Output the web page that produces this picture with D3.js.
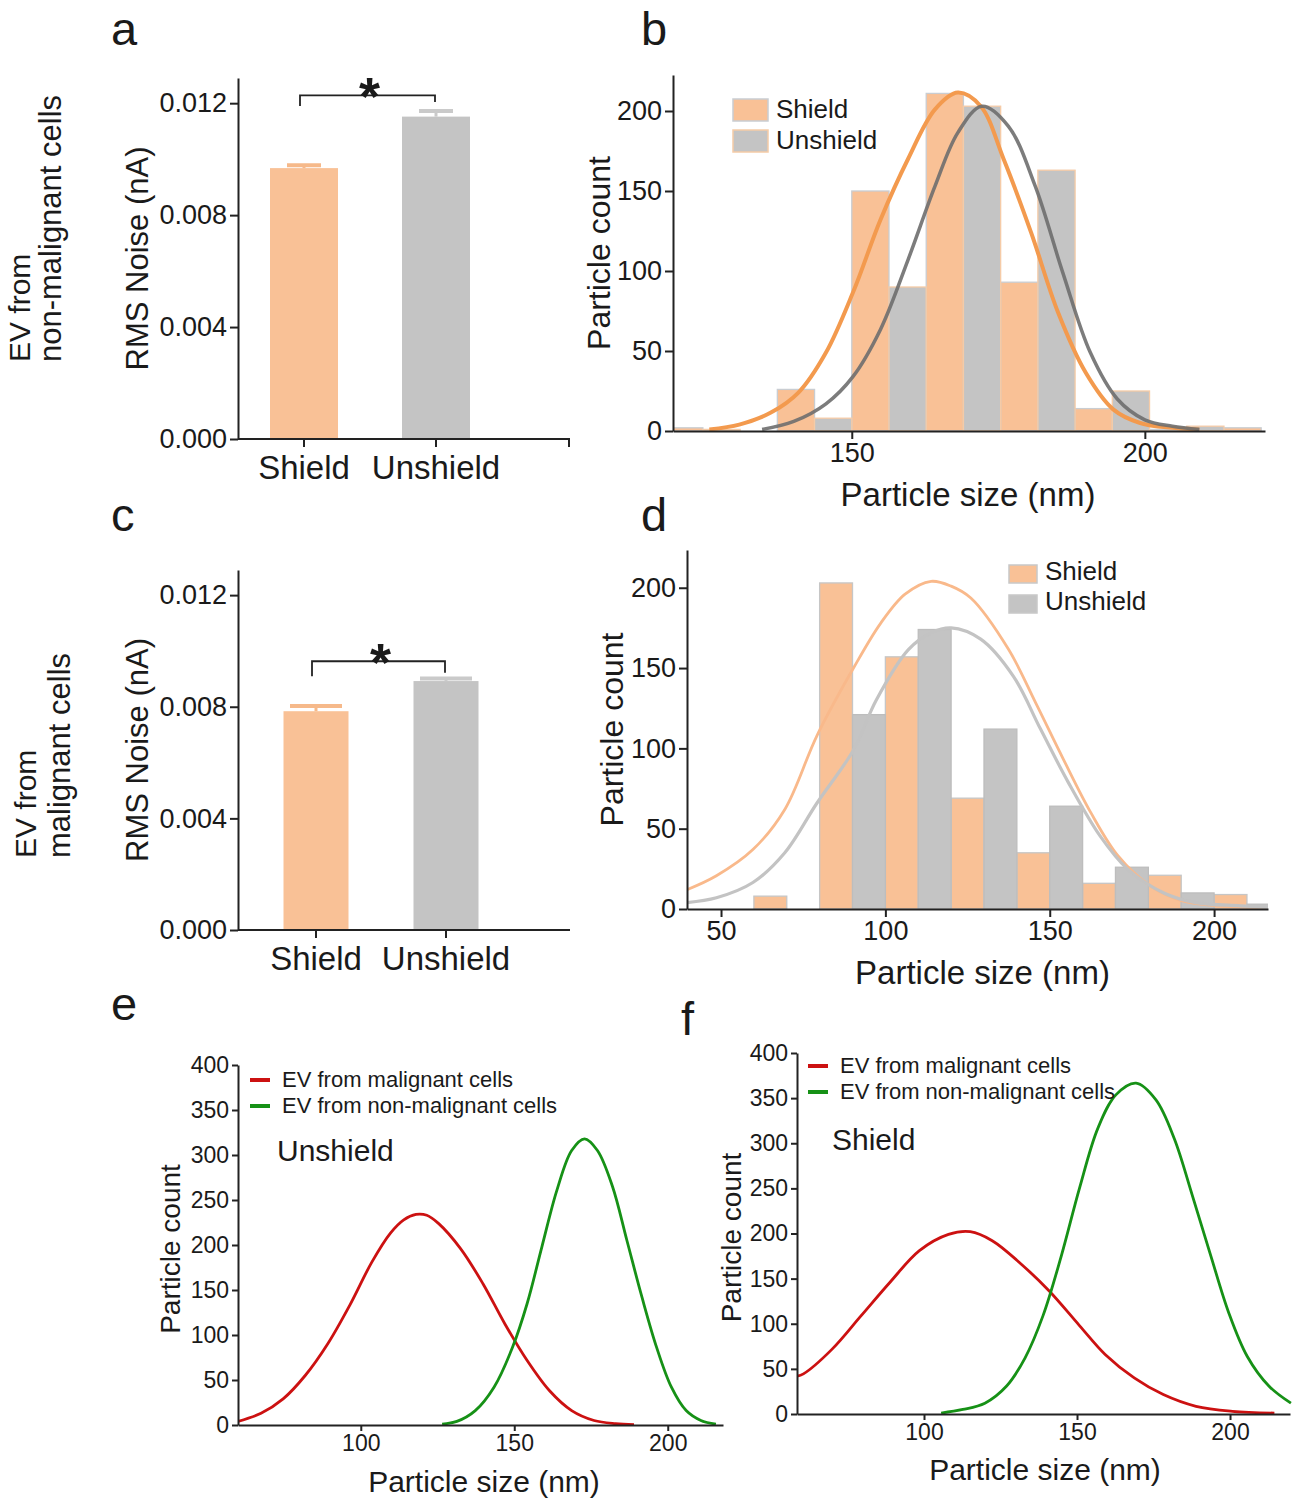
<!DOCTYPE html>
<html><head><meta charset="utf-8">
<script src="https://cdn.jsdelivr.net/npm/d3@7"></script>
<style>body{margin:0;background:#fff}</style>
</head><body>
<svg id="fig" width="1294" height="1500" xmlns="http://www.w3.org/2000/svg"></svg>
<script>
// ---------------- DATA ----------------
const groups = ["Shield", "Unshield"];
const noiseTicks = [0, 0.004, 0.008, 0.012];
// panel a: EV from non-malignant cells
const noiseNonMalignant = [0.00968, 0.01152];
const noiseNonMalignantErr = [0.0001, 0.0002];
// panel c: EV from malignant cells
const noiseMalignant = [0.00784, 0.00892];
const noiseMalignantErr = [0.00019, 0.00009];

// panel b histogram (non-malignant), bin width 6.35 nm
const binWidthB = 6.35;
const histB_shieldStart = [118.25, 137.3, 150, 162.7, 175.4, 188.1, 200.8, 213.5];
const histB_shieldCount = [2, 26, 150, 211, 93, 14, 1, 2];
const histB_unshieldStart = [124.6, 143.65, 156.35, 169.05, 181.75, 194.45, 207.15];
const histB_unshieldCount = [1, 8, 90, 203, 163, 25, 3];
const ticksB_x = [150, 200];
const ticksB_y = [0, 50, 100, 150, 200];

// panel b fitted curves [size nm, count]
const curveB_shield = [[125.7,1],[130.8,4],[136.2,11.5],[140.9,24],[145.6,49],[150.2,86.5],[154.9,132],[159.6,170],[164.2,201],[168.1,211.5],[172,203],[175.9,170],[180.6,124],[185.2,74],[189.9,36.5],[194.6,13.5],[199.2,5],[204.7,2],[209.3,1]];
const curveB_unshield = [[134.7,1],[140.1,6],[145.6,17],[150.2,34],[154.9,63.5],[159.6,107],[164.2,153],[168.1,186.5],[172.2,203],[176.7,190.6],[181.3,153],[186,99],[190.7,49],[195.3,20],[200,7],[204.7,3],[209.3,1]];

// panel d histogram (malignant), bin width 10 nm
const binWidthD = 10;
const histD_shieldStart = [60, 80, 100, 120, 140, 160, 180, 200];
const histD_shieldCount = [8, 203, 157, 69, 35, 16, 21, 9];
const histD_unshieldStart = [90, 110, 130, 150, 170, 190, 210];
const histD_unshieldCount = [121, 174, 112, 64, 26, 10, 3];
const ticksD_x = [50, 100, 150, 200];
const ticksD_y = [0, 50, 100, 150, 200];

const curveD_shield = [[39.65,12],[48.6,20.7],[59.7,37],[69.4,62],[79.2,108],[90.3,150],[98.6,178],[106,196],[113.9,204],[120,201],[126,193.6],[137.5,161.5],[145.8,128],[154.2,93],[162.5,60],[170.8,33],[180.5,14.5],[190.3,5],[201.4,2],[216.4,1]];
const curveD_unshield = [[39.65,4],[48.6,7],[59.7,16.5],[69.4,35],[79.2,66],[90.3,99],[97.2,130],[107,161.5],[114,172],[120,175],[129,168],[138.9,145],[147.2,112],[155.6,79],[165.3,45.5],[173.6,25],[184.7,10],[194.4,4],[208,2],[216.4,1]];

// panel e (Unshield) and f (Shield)
const seriesNames = ["EV from malignant cells", "EV from non-malignant cells"];
const ticksEF_x = [100, 150, 200];
const ticksEF_y = [0, 50, 100, 150, 200, 250, 300, 350, 400];
const curveE_malignant = [[60,4],[67.5,13],[74.7,29],[81.9,55],[89.2,90],[96.4,133],[103.6,181],[109.6,213],[114,228],[118,234],[121.5,233],[125.3,224],[132.5,196],[139.8,157],[147,112],[154.2,71.6],[161.5,38],[168.7,16],[176,5],[183,1.5],[189,0.5]];
const curveE_nonMalignant = [[126.5,1],[131.3,4],[137.3,16],[143.4,42],[149.4,86],[154.2,135],[159,198],[163.9,261],[168.7,305],[172.9,318],[177.1,305],[182,265],[186.7,205],[191.6,142],[196.4,86],[201.2,42],[206,16],[210.8,5],[215.7,1]];
const curveF_malignant = [[58.5,42],[60.6,44.5],[69.9,71.6],[79.4,108.7],[88.9,146],[98.5,181],[108,199],[115.1,202],[122.3,192],[131.8,166],[141,136],[150.8,98],[159.2,66],[168.7,40],[178.2,21.5],[188.9,8.5],[200.8,3],[214.5,1]];
const curveF_nonMalignant = [[105.6,1],[112.7,5],[119.9,12],[127,31],[133,62],[138.9,109],[144.9,175.5],[150.8,250],[156.8,316.5],[162.7,353.6],[169.3,366.6],[175.8,348],[181.8,305],[187.7,242],[193.7,175.5],[199.6,112],[205.6,64],[212.7,31],[219.9,12]];

// ---------------- STYLE ----------------
const FONT = '"Liberation Sans", Arial, Helvetica, sans-serif';
const INK = '#1a1a1a';
const AX = '#222';
const ORANGE = '#F9C196';
const GRAY = '#C4C4C4';

const svg = d3.select('#fig');

function addText(x, y, s, size, opts = {}) {
  return svg.append('text')
    .attr('transform', `translate(${x},${y})` + (opts.rotate ? ` rotate(${opts.rotate})` : ''))
    .attr('font-family', FONT).attr('font-size', size)
    .attr('fill', opts.fill || INK)
    .attr('text-anchor', opts.anchor || 'start')
    .attr('font-weight', opts.weight || 'normal')
    .text(s);
}
function styleAxis(g, size) {
  g.attr('font-family', FONT).attr('font-size', size);
  g.selectAll('text').attr('fill', INK);
  g.selectAll('path.domain').attr('stroke', AX).attr('stroke-width', 2);
  g.selectAll('.tick line').attr('stroke', AX).attr('stroke-width', 2);
}

// ---------------- BAR PANELS (a, c) ----------------
function barPanel(cfg) {
  const x = d3.scalePoint().domain(groups).range(cfg.centers);
  const y = d3.scaleLinear().domain([0, 0.0129]).range([cfg.yBottom, cfg.yTop]);
  const g = svg.append('g');
  const fills = [ORANGE, GRAY];
  const capCols = ['#F6B98A', '#CACACA'];
  const rows = groups.map((k, i) => ({k, v: cfg.values[i], e: cfg.errors[i], fill: fills[i], cap: capCols[i]}));
  g.selectAll('rect.bar').data(rows).join('rect')
    .attr('x', d => x(d.k) - cfg.barW / 2).attr('width', cfg.barW)
    .attr('y', d => y(d.v)).attr('height', d => y(0) - y(d.v))
    .attr('fill', d => d.fill);
  g.selectAll('line.err').data(rows).join('line')
    .attr('x1', d => x(d.k)).attr('x2', d => x(d.k))
    .attr('y1', d => y(d.v)).attr('y2', d => y(d.v + d.e))
    .attr('stroke', d => d.cap).attr('stroke-width', 3);
  g.selectAll('line.cap').data(rows).join('line')
    .attr('x1', d => x(d.k) - cfg.barW * cfg.capFrac / 2).attr('x2', d => x(d.k) + cfg.barW * cfg.capFrac / 2)
    .attr('y1', d => y(d.v + d.e)).attr('y2', d => y(d.v + d.e))
    .attr('stroke', d => d.cap).attr('stroke-width', 4);
  // axes
  const ya = svg.append('g').attr('transform', `translate(${cfg.xLeft},0)`)
    .call(d3.axisLeft(y).tickValues(noiseTicks).tickFormat(d3.format('.3f')).tickSize(8).tickPadding(3).tickSizeOuter(0));
  styleAxis(ya, 27);
  svg.append('line').attr('x1', cfg.xLeft).attr('x2', cfg.xRight).attr('y1', y(0)).attr('y2', y(0))
    .attr('stroke', AX).attr('stroke-width', 2);
  const tickXs = groups.map(k => x(k)).concat(cfg.endTick ? [cfg.xRight - 1] : []);
  svg.selectAll(null).data(tickXs).join('line')
    .attr('x1', d => d).attr('x2', d => d).attr('y1', y(0)).attr('y2', y(0) + 8)
    .attr('stroke', AX).attr('stroke-width', 2);
  groups.forEach(k => addText(x(k), cfg.catBaseline, k, 33, {anchor: 'middle'}));
  // significance bracket
  const b = cfg.bracket;
  const xl = x(groups[0]) - 4, xr = x(groups[1]) - 1;
  svg.append('path')
    .attr('d', `M${xl},${y(b.left)} V${y(b.line)} H${xr} V${y(b.right)}`)
    .attr('fill', 'none').attr('stroke', AX).attr('stroke-width', 1.8);
  addText((xl + xr) / 2 + 2, y(b.line) + 20, '*', 54, {anchor: 'middle', weight: 'bold'});
  // y title
  addText(cfg.titleX, (cfg.yTop + cfg.yBottom) / 2, 'RMS Noise (nA)', 31, {anchor: 'middle', rotate: -90});
}

barPanel({xLeft: 238, xRight: 570, yBottom: 439, yTop: 78, centers: [304, 436], barW: 68, capFrac: 0.5,
  values: noiseNonMalignant, errors: noiseNonMalignantErr, endTick: true, catBaseline: 479, titleX: 148,
  bracket: {line: 0.01228, left: 0.0119, right: 0.01204}});
barPanel({xLeft: 238, xRight: 570, yBottom: 930, yTop: 570, centers: [316, 446], barW: 65, capFrac: 0.8,
  values: noiseMalignant, errors: noiseMalignantErr, endTick: false, catBaseline: 970, titleX: 148,
  bracket: {line: 0.00963, left: 0.00909, right: 0.00922}});

// row labels
addText(30, 362, 'EV from', 30, {rotate: -90});
addText(61, 362, 'non-malignant  cells', 31, {rotate: -90});
addText(36, 858, 'EV from', 30, {rotate: -90});
addText(70, 858, 'malignant  cells', 31, {rotate: -90});

// ---------------- HISTOGRAM PANELS (b, d) ----------------
function histPanel(cfg) {
  const x = d3.scaleLinear().domain(cfg.xDomain).range([cfg.xL, cfg.xR]);
  const y = d3.scaleLinear().domain([0, cfg.yMax]).range([cfg.yB, cfg.yT]);
  const id = 'clip' + cfg.name;
  svg.append('clipPath').attr('id', id).append('rect')
    .attr('x', cfg.xL).attr('y', cfg.yT - 20).attr('width', cfg.xR - cfg.xL).attr('height', cfg.yB - cfg.yT + 20);
  const g = svg.append('g').attr('clip-path', `url(#${id})`);
  const series = [
    {start: cfg.sStart, count: cfg.sCount, fill: ORANGE, stroke: cfg.sStroke},
    {start: cfg.uStart, count: cfg.uCount, fill: GRAY, stroke: cfg.uStroke}
  ];
  series.forEach(s => {
    const rows = s.start.map((x0, i) => ({x0, x1: x0 + cfg.binW, c: s.count[i]}));
    g.append('g').selectAll('rect').data(rows).join('rect')
      .attr('x', d => x(d.x0)).attr('width', d => x(d.x1) - x(d.x0))
      .attr('y', d => y(d.c)).attr('height', d => y(0) - y(d.c))
      .attr('fill', s.fill).attr('stroke', s.stroke).attr('stroke-width', 1.3);
  });
  const line = d3.line().x(d => x(d[0])).y(d => y(d[1])).curve(d3.curveCatmullRom.alpha(0.5));
  cfg.curves.forEach(c => {
    g.append('path').attr('d', line(c.data)).attr('fill', 'none')
      .attr('stroke', c.color).attr('stroke-width', c.w).attr('stroke-opacity', c.op || 1);
  });
  const ya = svg.append('g').attr('transform', `translate(${cfg.xL},0)`)
    .call(d3.axisLeft(y).tickValues(cfg.yTicks).tickSize(8).tickPadding(3).tickSizeOuter(0));
  styleAxis(ya, 27);
  const xa = svg.append('g').attr('transform', `translate(0,${cfg.yB})`)
    .call(d3.axisBottom(x).tickValues(cfg.xTicks).tickSize(8).tickPadding(4).tickSizeOuter(0));
  styleAxis(xa, 27);
  addText(cfg.yTitleX, (cfg.yT + cfg.yB) / 2, 'Particle count', 32, {anchor: 'middle', rotate: -90});
  addText((cfg.xL + cfg.xR) / 2 + cfg.xTitleDx, cfg.xTitleY, 'Particle size (nm)', 33, {anchor: 'middle'});
  // legend
  const L = cfg.legend;
  groups.forEach((k, i) => {
    svg.append('rect').attr('x', L.x).attr('y', L.y + i * L.dy).attr('width', L.w).attr('height', L.h)
      .attr('fill', i === 0 ? ORANGE : GRAY).attr('stroke', L.strokes[i]).attr('stroke-width', 1.5);
    addText(L.x + L.w + 8, L.y + i * L.dy + L.h - 3, k, 26);
  });
}

histPanel({name: 'b', xDomain: [119.5, 220.5], xL: 673, xR: 1265, yMax: 222.5, yB: 431, yT: 75, binW: binWidthB,
  sStart: histB_shieldStart, sCount: histB_shieldCount, uStart: histB_unshieldStart, uCount: histB_unshieldCount,
  sStroke: '#C9CDD2', uStroke: '#F5CBA7', xTicks: ticksB_x, yTicks: ticksB_y,
  curves: [{data: curveB_shield, color: '#F39A4E', w: 4}, {data: curveB_unshield, color: '#6E6E6E', w: 3.5, op: 0.9}],
  yTitleX: 610, xTitleY: 506, xTitleDx: -1,
  legend: {x: 733, y: 99, w: 35, h: 22, dy: 31, strokes: ['#C9CDD2', '#F5CBA7']}});

histPanel({name: 'd', xDomain: [39.65, 216.4], xL: 687, xR: 1268, yMax: 223.5, yB: 909, yT: 550, binW: binWidthD,
  sStart: histD_shieldStart, sCount: histD_shieldCount, uStart: histD_unshieldStart, uCount: histD_unshieldCount,
  sStroke: '#C6C6C6', uStroke: '#BDBDBD', xTicks: ticksD_x, yTicks: ticksD_y,
  curves: [{data: curveD_shield, color: '#F9B98B', w: 2.8}, {data: curveD_unshield, color: '#C3C3C3', w: 3.2}],
  yTitleX: 623, xTitleY: 984, xTitleDx: 5,
  legend: {x: 1009, y: 565, w: 28, h: 18, dy: 30, strokes: ['#C8C8C8', '#C8C8C8']}});

// ---------------- CURVE PANELS (e, f) ----------------
function curvePanel(cfg) {
  const x = d3.scaleLinear().domain(cfg.xDomain).range([cfg.xL, cfg.xR]);
  const y = d3.scaleLinear().domain([0, 400]).range([cfg.yB, cfg.yT]);
  const id = 'clip' + cfg.name;
  svg.append('clipPath').attr('id', id).append('rect')
    .attr('x', cfg.xL).attr('y', cfg.yT - 10).attr('width', cfg.xR - cfg.xL + 4).attr('height', cfg.yB - cfg.yT + 10);
  const g = svg.append('g').attr('clip-path', `url(#${id})`);
  const line = d3.line().x(d => x(d[0])).y(d => y(d[1])).curve(d3.curveCatmullRom.alpha(0.5));
  const colors = ['#CC1111', '#169116'];
  [cfg.red, cfg.green].forEach((data, i) => {
    g.append('path').attr('d', line(data)).attr('fill', 'none').attr('stroke', colors[i]).attr('stroke-width', 2.8);
  });
  const ya = svg.append('g').attr('transform', `translate(${cfg.xL},0)`)
    .call(d3.axisLeft(y).tickValues(ticksEF_y).tickSize(6).tickPadding(3).tickSizeOuter(0));
  styleAxis(ya, 23);
  const xa = svg.append('g').attr('transform', `translate(0,${cfg.yB})`)
    .call(d3.axisBottom(x).tickValues(ticksEF_x).tickSize(6).tickPadding(4).tickSizeOuter(0));
  styleAxis(xa, 23);
  addText(cfg.yTitleX, (cfg.yT + cfg.yB) / 2 + 4, 'Particle count', 28, {anchor: 'middle', rotate: -90});
  addText(cfg.xTitleCx, cfg.xTitleY, 'Particle size (nm)', 30, {anchor: 'middle'});
  seriesNames.forEach((s, i) => {
    svg.append('line').attr('x1', cfg.legX).attr('x2', cfg.legX + 20)
      .attr('y1', cfg.legY + i * 26).attr('y2', cfg.legY + i * 26)
      .attr('stroke', colors[i]).attr('stroke-width', 4);
    addText(cfg.legX + 32, cfg.legY + i * 26 + 7, s, 22);
  });
  addText(cfg.condX, cfg.condY, cfg.cond, 30);
}

curvePanel({name: 'e', xDomain: [60, 218], xL: 238, xR: 723, yB: 1425, yT: 1065,
  red: curveE_malignant, green: curveE_nonMalignant, yTitleX: 180, xTitleCx: 484, xTitleY: 1492,
  legX: 250, legY: 1080, cond: 'Unshield', condX: 277, condY: 1161});
curvePanel({name: 'f', xDomain: [58.5, 219.6], xL: 797, xR: 1290, yB: 1414, yT: 1053,
  red: curveF_malignant, green: curveF_nonMalignant, yTitleX: 741, xTitleCx: 1045, xTitleY: 1480,
  legX: 808, legY: 1066, cond: 'Shield', condX: 832, condY: 1150});

// ---------------- PANEL LETTERS ----------------
[['a', 111, 45], ['b', 641, 45], ['c', 111, 531], ['d', 641, 531], ['e', 111, 1020], ['f', 681, 1035]]
  .forEach(([t, x, y]) => addText(x, y, t, 47));
</script>
</body></html>
